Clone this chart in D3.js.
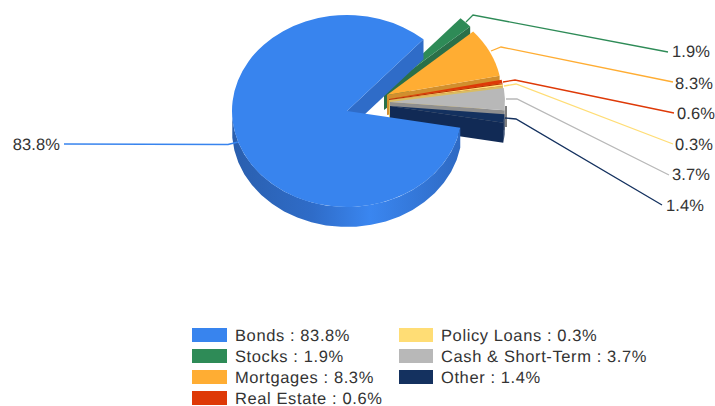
<!DOCTYPE html>
<html>
<head>
<meta charset="utf-8">
<script src="https://cdn.jsdelivr.net/npm/d3@7"></script>
<style>
  html, body { margin: 0; padding: 0; background: #fff; }
  text { font-family: "Liberation Sans", Arial, sans-serif; fill: #333; text-rendering: geometricPrecision; }
</style>
</head>
<body>
<div id="chart"></div>
<script>
const categories = ["Bonds", "Stocks", "Mortgages", "Real Estate", "Policy Loans", "Cash & Short-Term", "Other"]
const values = [83.8, 1.9, 8.3, 0.6, 0.3, 3.7, 1.4]
const colors = ["#3884ee", "#2e8b57", "#ffad33", "#de3907", "#ffdd75", "#b8b8b8", "#14315f"]
const wallColors = ["#2f6cc8", "#2a7049", "#d18f2e", "#b53006", "#d9bc63", "#8f8f8f", "#112a55"]

const width = 715
const height = 406
const rx = 115
const ry = 96
const depth = 20

// slice apex, Bonds stays put and the rest are pulled out to the right
const centres = [[347, 111], [384, 90], [387, 95], [389, 99], [389, 100], [390, 102], [390, 106]]

// elbow leader lines: slice edge, elbow, label end
const leaders = [
  [[238, 142], [228, 144.5], [64, 144]],
  [[466, 22], [473, 15], [668, 52]],
  [[491, 51], [501, 47], [673, 82]],
  [[503, 82], [515, 80], [674, 113]],
  [[504, 86], [516, 84], [673, 144]],
  [[506, 99], [517, 99], [669, 175]],
  [[505, 118], [516, 119], [662, 205]],
]
const labelPos = [[60, 144], [672, 51], [675, 83], [677, 113], [675, 144], [672, 174], [666, 205]]

const svg = d3.select("#chart").append("svg")
  .attr("width", width)
  .attr("height", height)
  .style("display", "block")

const grad = svg.append("defs").append("linearGradient")
  .attr("id", "bondsWall")
  .attr("gradientUnits", "userSpaceOnUse")
  .attr("x1", 232).attr("x2", 462).attr("y1", 0).attr("y2", 0)
grad.append("stop").attr("offset", 0).attr("stop-color", "#2a5fae")
grad.append("stop").attr("offset", 0.35).attr("stop-color", "#2f6cc8")
grad.append("stop").attr("offset", 0.6).attr("stop-color", "#3a86f0")
grad.append("stop").attr("offset", 1).attr("stop-color", "#2e69c2")

const slices = d3.pie()
  .sort(null)
  .startAngle((100 * Math.PI) / 180)
  .endAngle((460 * Math.PI) / 180)(values)

const arc = d3.arc().innerRadius(0).outerRadius(rx)
const line = d3.line()
const edge = (a, c, dy = 0) => [c[0] + rx * Math.sin(a), c[1] - ry * Math.cos(a) + dy]

// outer rim polygon for the part of a slice that faces the viewer
function rim(d, c) {
  const pts = d3.range(0, 41).map((k) => d.startAngle + ((d.endAngle - d.startAngle) * k) / 40)
    .filter((a) => {
      const m = ((a % (2 * Math.PI)) + 2 * Math.PI) % (2 * Math.PI)
      return m >= Math.PI / 2 - 0.001 && m <= (3 * Math.PI) / 2 + 0.001
    })
  if (pts.length < 2) return null
  return line(pts.map((a) => edge(a, c)).concat(pts.slice().reverse().map((a) => edge(a, c, depth)))) + "Z"
}

function drawSlice(d, i) {
  const c = centres[i]
  const g = svg.append("g")
  // cut face on the clockwise end of the slice
  g.append("path")
    .attr("d", line([c, edge(d.endAngle, c), edge(d.endAngle, c, depth), [c[0], c[1] + depth]]) + "Z")
    .attr("fill", wallColors[i])
  const r = rim(d, c)
  if (r) {
    g.append("path").attr("d", r).attr("fill", i === 0 ? "url(#bondsWall)" : wallColors[i])
  }
  // the cash slice shows a thin grey edge past its rim
  if (i === 5) {
    g.append("rect")
      .attr("x", c[0] + rx)
      .attr("y", c[1] + 4)
      .attr("width", 2)
      .attr("height", depth + 1)
      .attr("fill", "#7f7f7f")
  }
  g.append("path")
    .attr("transform", `translate(${c[0]},${c[1]}) scale(1,${ry / rx})`)
    .attr("d", arc(d))
    .attr("fill", colors[i])
}

// Bonds rim goes first, its top face last so it covers the pulled out slices
const order = [1, 2, 3, 4, 5, 6, 0]
order.forEach((i) => drawSlice(slices[i], i))

svg.append("g")
  .attr("fill", "none")
  .attr("stroke-width", 1.3)
  .selectAll("path")
  .data(leaders)
  .join("path")
  .attr("d", (d) => line(d))
  .attr("stroke", (d, i) => colors[i])

svg.append("g")
  .selectAll("text")
  .data(values)
  .join("text")
  .attr("x", (d, i) => labelPos[i][0])
  .attr("y", (d, i) => labelPos[i][1])
  .attr("dy", "0.36em")
  .attr("text-anchor", (d, i) => (i === 0 ? "end" : "start"))
  .attr("font-size", 16.5)
  .attr("letter-spacing", 0.1)
  .text((d) => d.toFixed(1) + "%")

const legendRows = 4
const legend = svg.append("g")
  .selectAll("g")
  .data(categories)
  .join("g")
  .attr("transform", (d, i) => {
    const col = i < legendRows ? 0 : 1
    const row = i < legendRows ? i : i - legendRows
    return `translate(${col ? 399 : 192},${328 + row * 21})`
  })
legend.append("rect")
  .attr("width", (d, i) => (i < legendRows ? 35 : 34))
  .attr("height", 14)
  .attr("fill", (d, i) => colors[i])
legend.append("text")
  .attr("x", (d, i) => (i < legendRows ? 43 : 42))
  .attr("y", 7)
  .attr("dy", "0.36em")
  .attr("font-size", 16.5)
  .attr("letter-spacing", 0.6)
  .text((d, i) => `${d} : ${values[i].toFixed(1)}%`)
</script>
</body>
</html>
